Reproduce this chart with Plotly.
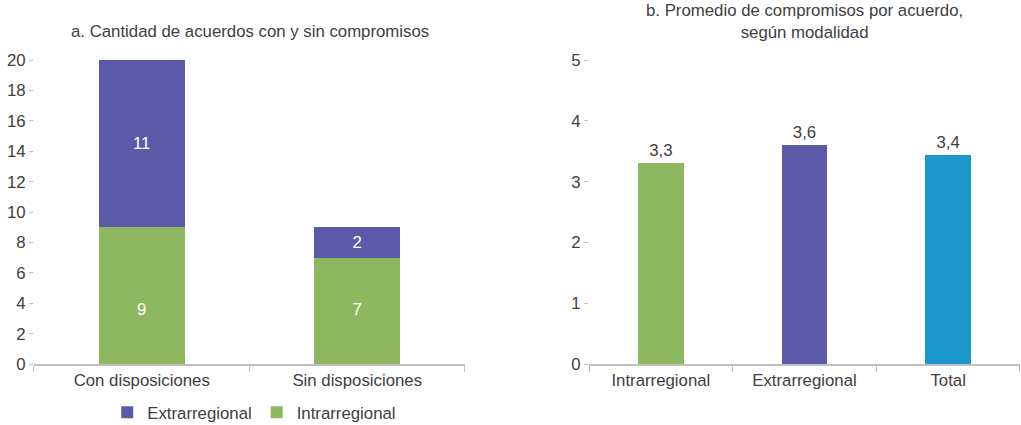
import plotly.graph_objects as go

# Dati pannello a
acuerdos_cat = ["Con disposiciones", "Sin disposiciones"]
intrarregional = [9, 7]
extrarregional = [11, 2]

# Dati pannello b
modalidad_cat = ["Intrarregional", "Extrarregional", "Total"]
promedio = [3.3, 3.6, 3.44]

verde = "#8DB85F"
viola = "#5A5AA8"
azzurro = "#1C98CC"
testo = "#404040"
linea = "#BFBFBF"
font_fam = "Liberation Sans, Arial, sans-serif"
fs = 16.8

fig = go.Figure()

# Pannello a: barre impilate
fig.add_trace(go.Bar(
    x=acuerdos_cat, y=intrarregional, name="Intrarregional",
    marker=dict(color=verde, line=dict(width=0)), width=0.4,
    xaxis="x", yaxis="y",
))
fig.add_trace(go.Bar(
    x=acuerdos_cat, y=extrarregional, name="Extrarregional",
    marker=dict(color=viola, line=dict(width=0)), width=0.4,
    text=extrarregional, textposition="inside", insidetextanchor="middle",
    textfont=dict(color="white", size=fs), xaxis="x", yaxis="y",
))
# etichette intrarregional allineate alla stessa altezza (come nell'originale)
fig.add_trace(go.Scatter(
    x=acuerdos_cat, y=[min(intrarregional) / 2] * len(acuerdos_cat),
    text=intrarregional, mode="text", showlegend=False, hoverinfo="skip",
    textfont=dict(color="white", size=fs), xaxis="x", yaxis="y",
))

# Pannello b: promedio
fig.add_trace(go.Bar(
    x=modalidad_cat, y=promedio, showlegend=False,
    marker=dict(color=[verde, viola, azzurro], line=dict(width=0)), width=0.32,
    text=promedio, texttemplate="%{y:.1f}", textposition="outside",
    textfont=dict(color=testo, size=fs), cliponaxis=False,
    xaxis="x2", yaxis="y2",
))

asse_x = dict(
    type="category", showline=True, linecolor=linea, linewidth=1.5,
    ticks="outside", tickson="boundaries", ticklen=6, tickcolor=linea,
    tickfont=dict(size=fs, color=testo), showgrid=False, zeroline=False,
    automargin=False,
)
asse_y = dict(
    showline=False, showgrid=False, zeroline=False,
    ticks="outside", ticklen=4, tickcolor=linea,
    tickfont=dict(size=fs, color=testo), automargin=False,
)

fig.update_layout(
    width=1021, height=425,
    margin=dict(l=0, r=0, t=0, b=0, autoexpand=False),
    plot_bgcolor="white", paper_bgcolor="white",
    font=dict(family=font_fam, color=testo),
    barmode="stack",
    separators=",.",
    xaxis=dict(asse_x, domain=[0.0333, 0.4554], anchor="y"),
    yaxis=dict(asse_y, domain=[0.1435, 0.8588], range=[0, 20], dtick=2, anchor="x"),
    xaxis2=dict(asse_x, domain=[0.5769, 0.999], anchor="y2"),
    yaxis2=dict(asse_y, domain=[0.1435, 0.8588], range=[0, 5], dtick=1, anchor="x2"),
    showlegend=True,
    legend=dict(
        orientation="h", traceorder="reversed",
        x=0.249, xanchor="center", y=0.03, yanchor="middle",
        font=dict(size=fs, color=testo), itemwidth=30,
    ),
    annotations=[
        dict(text="a. Cantidad de acuerdos con y sin compromisos",
             x=0.245, y=(425 - 31) / 425, xref="paper", yref="paper",
             xanchor="center", yanchor="middle", showarrow=False,
             font=dict(size=fs, color=testo)),
        dict(text="b. Promedio de compromisos por acuerdo,<br>según modalidad",
             x=0.788, y=(425 - 22) / 425, xref="paper", yref="paper",
             xanchor="center", yanchor="middle", showarrow=False,
             font=dict(size=fs, color=testo)),
    ],
)

fig.write_html("out.html", config={"displayModeBar": False},
               post_script="document.body.style.margin='0';")
